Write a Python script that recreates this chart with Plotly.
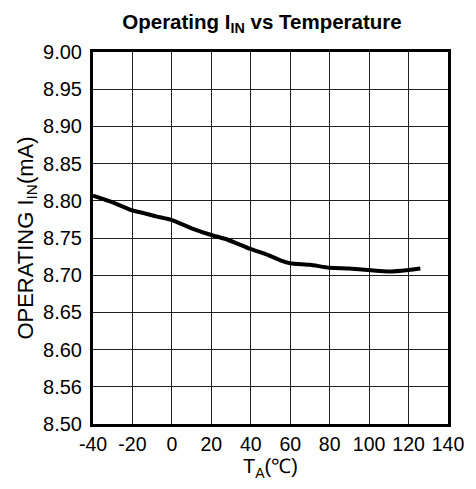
import plotly.graph_objects as go

temps = [-40, -30, -20, -15, -8, 0, 10, 20, 28, 40, 47, 55, 60, 70, 80, 90, 100, 110, 120, 126]
current = [8.807, 8.798, 8.787, 8.784, 8.779, 8.774, 8.763, 8.754, 8.748, 8.735, 8.729,
           8.720, 8.716, 8.714, 8.710, 8.709, 8.707, 8.705, 8.707, 8.709]

y_tickvals = [8.50, 8.55, 8.60, 8.65, 8.70, 8.75, 8.80, 8.85, 8.90, 8.95, 9.00]
y_ticktext = ["8.50", "8.56", "8.60", "8.65", "8.70", "8.75", "8.80", "8.85", "8.90", "8.95", "9.00"]
x_tickvals = [-40, -20, 0, 20, 40, 60, 80, 100, 120, 140]
x_ticktext = ["-40", "-20", "0", "20", "40", "60", "80", "100", "120", "140"]

fig = go.Figure()
fig.add_trace(go.Scatter(x=temps, y=current, mode="lines",
                         line=dict(color="black", width=4, shape="spline", smoothing=0.6),
                         showlegend=False, hoverinfo="skip"))

font_family = "Liberation Sans, Arial, sans-serif"
fig.update_layout(
    width=468, height=481,
    margin=dict(l=85, r=22, t=44, b=65),
    paper_bgcolor="white", plot_bgcolor="white",
    font=dict(family=font_family, color="black", size=19),
    title=dict(text="<b>Operating I<sub>IN</sub> vs Temperature</b>",
               x=0.476, xref="paper", xanchor="center",
               yref="container", y=0.971, yanchor="middle",
               font=dict(size=20.5, family=font_family, color="black")),
    xaxis=dict(range=[-40, 140], tickvals=x_tickvals, ticktext=x_ticktext, ticks="",
               showgrid=True, gridcolor="#222", gridwidth=1, showline=True,
               linecolor="black", linewidth=3, mirror=True, zeroline=False,
               tickfont=dict(size=19.5), ticklabelstandoff=1,
               title=dict(text="T<sub>A</sub>(℃)", font=dict(size=20), standoff=4)),
    yaxis=dict(range=[8.5, 9.0], tickvals=y_tickvals, ticktext=y_ticktext, ticks="",
               showgrid=True, gridcolor="#222", gridwidth=1, showline=True,
               linecolor="black", linewidth=3, mirror=True, zeroline=False,
               tickfont=dict(size=20), ticklabelstandoff=4,
               title=dict(text="OPERATING I<sub>IN</sub>(mA)", font=dict(size=22), standoff=4)),
)

fig.write_html("out.html")
